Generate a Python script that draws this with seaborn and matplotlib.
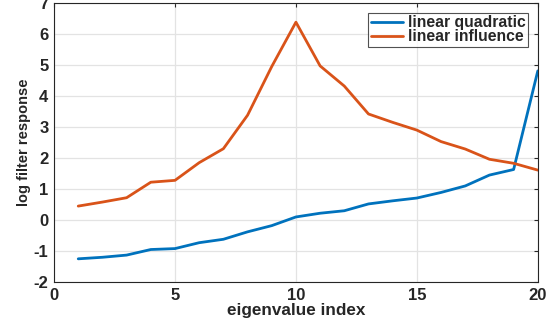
import matplotlib
matplotlib.use("Agg")
import matplotlib.pyplot as plt
import seaborn as sns
import pandas as pd
import numpy as np

eigen_index = list(range(1, 21))
linear_quadratic = [-1.25, -1.20, -1.13, -0.95, -0.92, -0.73, -0.62, -0.38, -0.18, 0.10,
                    0.22, 0.30, 0.52, 0.62, 0.71, 0.89, 1.10, 1.45, 1.63, 4.81]
linear_influence = [0.45, 0.58, 0.72, 1.22, 1.28, 1.85, 2.30, 3.38, 4.95, 6.38,
                    4.97, 4.32, 3.42, 3.15, 2.90, 2.53, 2.29, 1.96, 1.83, 1.61]
series_names = ["linear quadratic", "linear influence"]
series_colors = ["#0072BD", "#D95319"]
x_ticks = [0, 5, 10, 15, 20]
y_ticks = [-2, -1, 0, 1, 2, 3, 4, 5, 6, 7]

df = pd.DataFrame({
    "eigenvalue index": eigen_index * 2,
    "log filter response": linear_quadratic + linear_influence,
    "series": [series_names[0]] * 20 + [series_names[1]] * 20,
})

sns.set_theme(style="white")
plt.rcParams["font.family"] = ["Liberation Sans", "DejaVu Sans"]
plt.rcParams["font.weight"] = "bold"
plt.rcParams["axes.unicode_minus"] = False

fig = plt.figure(figsize=(5.46, 3.28), dpi=100)
ax = fig.add_axes([0.099, 0.140, 0.886, 0.851])

sns.lineplot(data=df, x="eigenvalue index", y="log filter response", hue="series",
             palette=series_colors, linewidth=2.0, ax=ax)

ax.set_xlim(0, 20)
ax.set_ylim(-2, 7)
ax.set_xticks(x_ticks)
ax.set_yticks(y_ticks)
ax.grid(True, color="#e3e3e3", linewidth=0.9)
ax.set_axisbelow(True)
for s in ax.spines.values():
    s.set_color("#262626")
    s.set_linewidth(0.8)
ax.tick_params(direction="in", length=3, width=0.8, color="#262626",
               top=True, right=True, labelsize=12, labelcolor="#262626", pad=4)
for lab in ax.get_xticklabels() + ax.get_yticklabels():
    lab.set_fontweight("bold")

ax.set_xlabel("eigenvalue index", fontsize=12.3, fontweight="bold", color="#262626", labelpad=0)
ax.set_ylabel("log filter response", fontsize=10.5, fontweight="bold", color="#262626",
              family=["Liberation Sans Narrow", "Liberation Sans", "DejaVu Sans"], labelpad=2)

leg = ax.legend(loc="upper right", frameon=True, fancybox=False, fontsize=11.3,
                borderpad=0.15, handlelength=2.05, handletextpad=0.3, labelspacing=-0.05,
                borderaxespad=0.0, bbox_to_anchor=(0.979, 0.965))
leg.get_frame().set_edgecolor("#262626")
leg.get_frame().set_linewidth(0.8)
for t in leg.get_texts():
    t.set_fontweight("bold")

fig.savefig("out.png", dpi=100)
